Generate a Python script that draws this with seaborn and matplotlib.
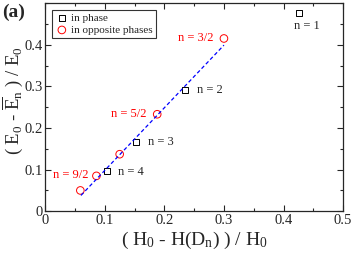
import matplotlib
matplotlib.use('Agg')
import matplotlib.pyplot as plt
import seaborn as sns
from matplotlib.ticker import MultipleLocator

# in phase (squares)
phase_x = [0.426, 0.234, 0.153, 0.104]
phase_y = [0.477, 0.291, 0.166, 0.096]

# in opposite phases (circles)
opp_x = [0.300, 0.188, 0.125, 0.086, 0.059]
opp_y = [0.415, 0.233, 0.137, 0.085, 0.050]

# fitted dashed line
fit_x = [0.060, 0.300]
fit_y = [0.038, 0.399]

sns.set_style('ticks')
plt.rcParams['font.family'] = ['Liberation Serif', 'DejaVu Serif']
plt.rcParams['mathtext.fontset'] = 'custom'
plt.rcParams['mathtext.rm'] = 'Liberation Serif'
plt.rcParams['mathtext.it'] = 'Liberation Serif:italic'

fig, ax = plt.subplots(figsize=(3.53, 2.57), dpi=100)
fig.subplots_adjust(left=0.128, right=0.972, top=0.988, bottom=0.178)

sns.lineplot(x=fit_x, y=fit_y, ax=ax, color='#0000ff', linestyle=(0, (3, 2)), lw=0.9)
sns.scatterplot(x=phase_x, y=phase_y, ax=ax, marker='s', s=20,
                facecolor='none', edgecolor='black', linewidth=0.7, label='in phase')
sns.scatterplot(x=opp_x, y=opp_y, ax=ax, marker='o', s=30,
                facecolor='none', edgecolor='red', linewidth=0.7, label='in opposite phases')

fs = 9
ax.text(0.418, 0.445, 'n = 1', fontsize=fs, ha='left', va='center')
ax.text(0.255, 0.291, 'n = 2', fontsize=fs, ha='left', va='center')
ax.text(0.173, 0.166, 'n = 3', fontsize=fs, ha='left', va='center')
ax.text(0.123, 0.094, 'n = 4', fontsize=fs, ha='left', va='center')
ax.text(0.283, 0.415, 'n = 3/2', fontsize=fs, ha='right', va='center', color='red')
ax.text(0.170, 0.233, 'n = 5/2', fontsize=fs, ha='right', va='center', color='red')
ax.text(0.072, 0.087, 'n = 9/2', fontsize=fs, ha='right', va='center', color='red')

ax.set_xlim(0, 0.5)
ax.set_ylim(0, 0.5)
ax.set_xticks([0, 0.1, 0.2, 0.3, 0.4, 0.5])
ax.set_xticklabels(['0', '0.1', '0.2', '0.3', '0.4', '0.5'])
ax.set_yticks([0, 0.1, 0.2, 0.3, 0.4])
ax.set_yticklabels(['0', '0.1', '0.2', '0.3', '0.4'])
ax.xaxis.set_minor_locator(MultipleLocator(0.05))
ax.yaxis.set_minor_locator(MultipleLocator(0.05))
ax.tick_params(which='both', direction='in', top=True, right=True, labelsize=10.5, width=0.8)
ax.tick_params(which='major', length=4, pad=2)
ax.tick_params(which='minor', length=2)
for sp in ax.spines.values():
    sp.set_linewidth(0.9)

ax.set_xlabel(r'( $\mathrm{H_0}$ - $\mathrm{H(D_n)}$ ) / $\mathrm{H_0}$', fontsize=14, labelpad=2)
ax.set_ylabel(r'( $\mathrm{E_0}$ - $\overline{\mathrm{E}}_\mathrm{n}$ ) / $\mathrm{E_0}$', fontsize=13.5)
ax.yaxis.set_label_coords(-0.068, 0.53)

leg = ax.legend(loc='upper left', fontsize=8, frameon=True, fancybox=False,
                edgecolor='black', borderpad=0.3, labelspacing=0.2, handletextpad=0.2,
                borderaxespad=0.6, handlelength=1.2)
leg.get_frame().set_linewidth(0.8)

fig.text(0.005, 0.985, '(a)', fontsize=14, fontweight='bold', ha='left', va='top')

fig.savefig('out.png', dpi=100)
